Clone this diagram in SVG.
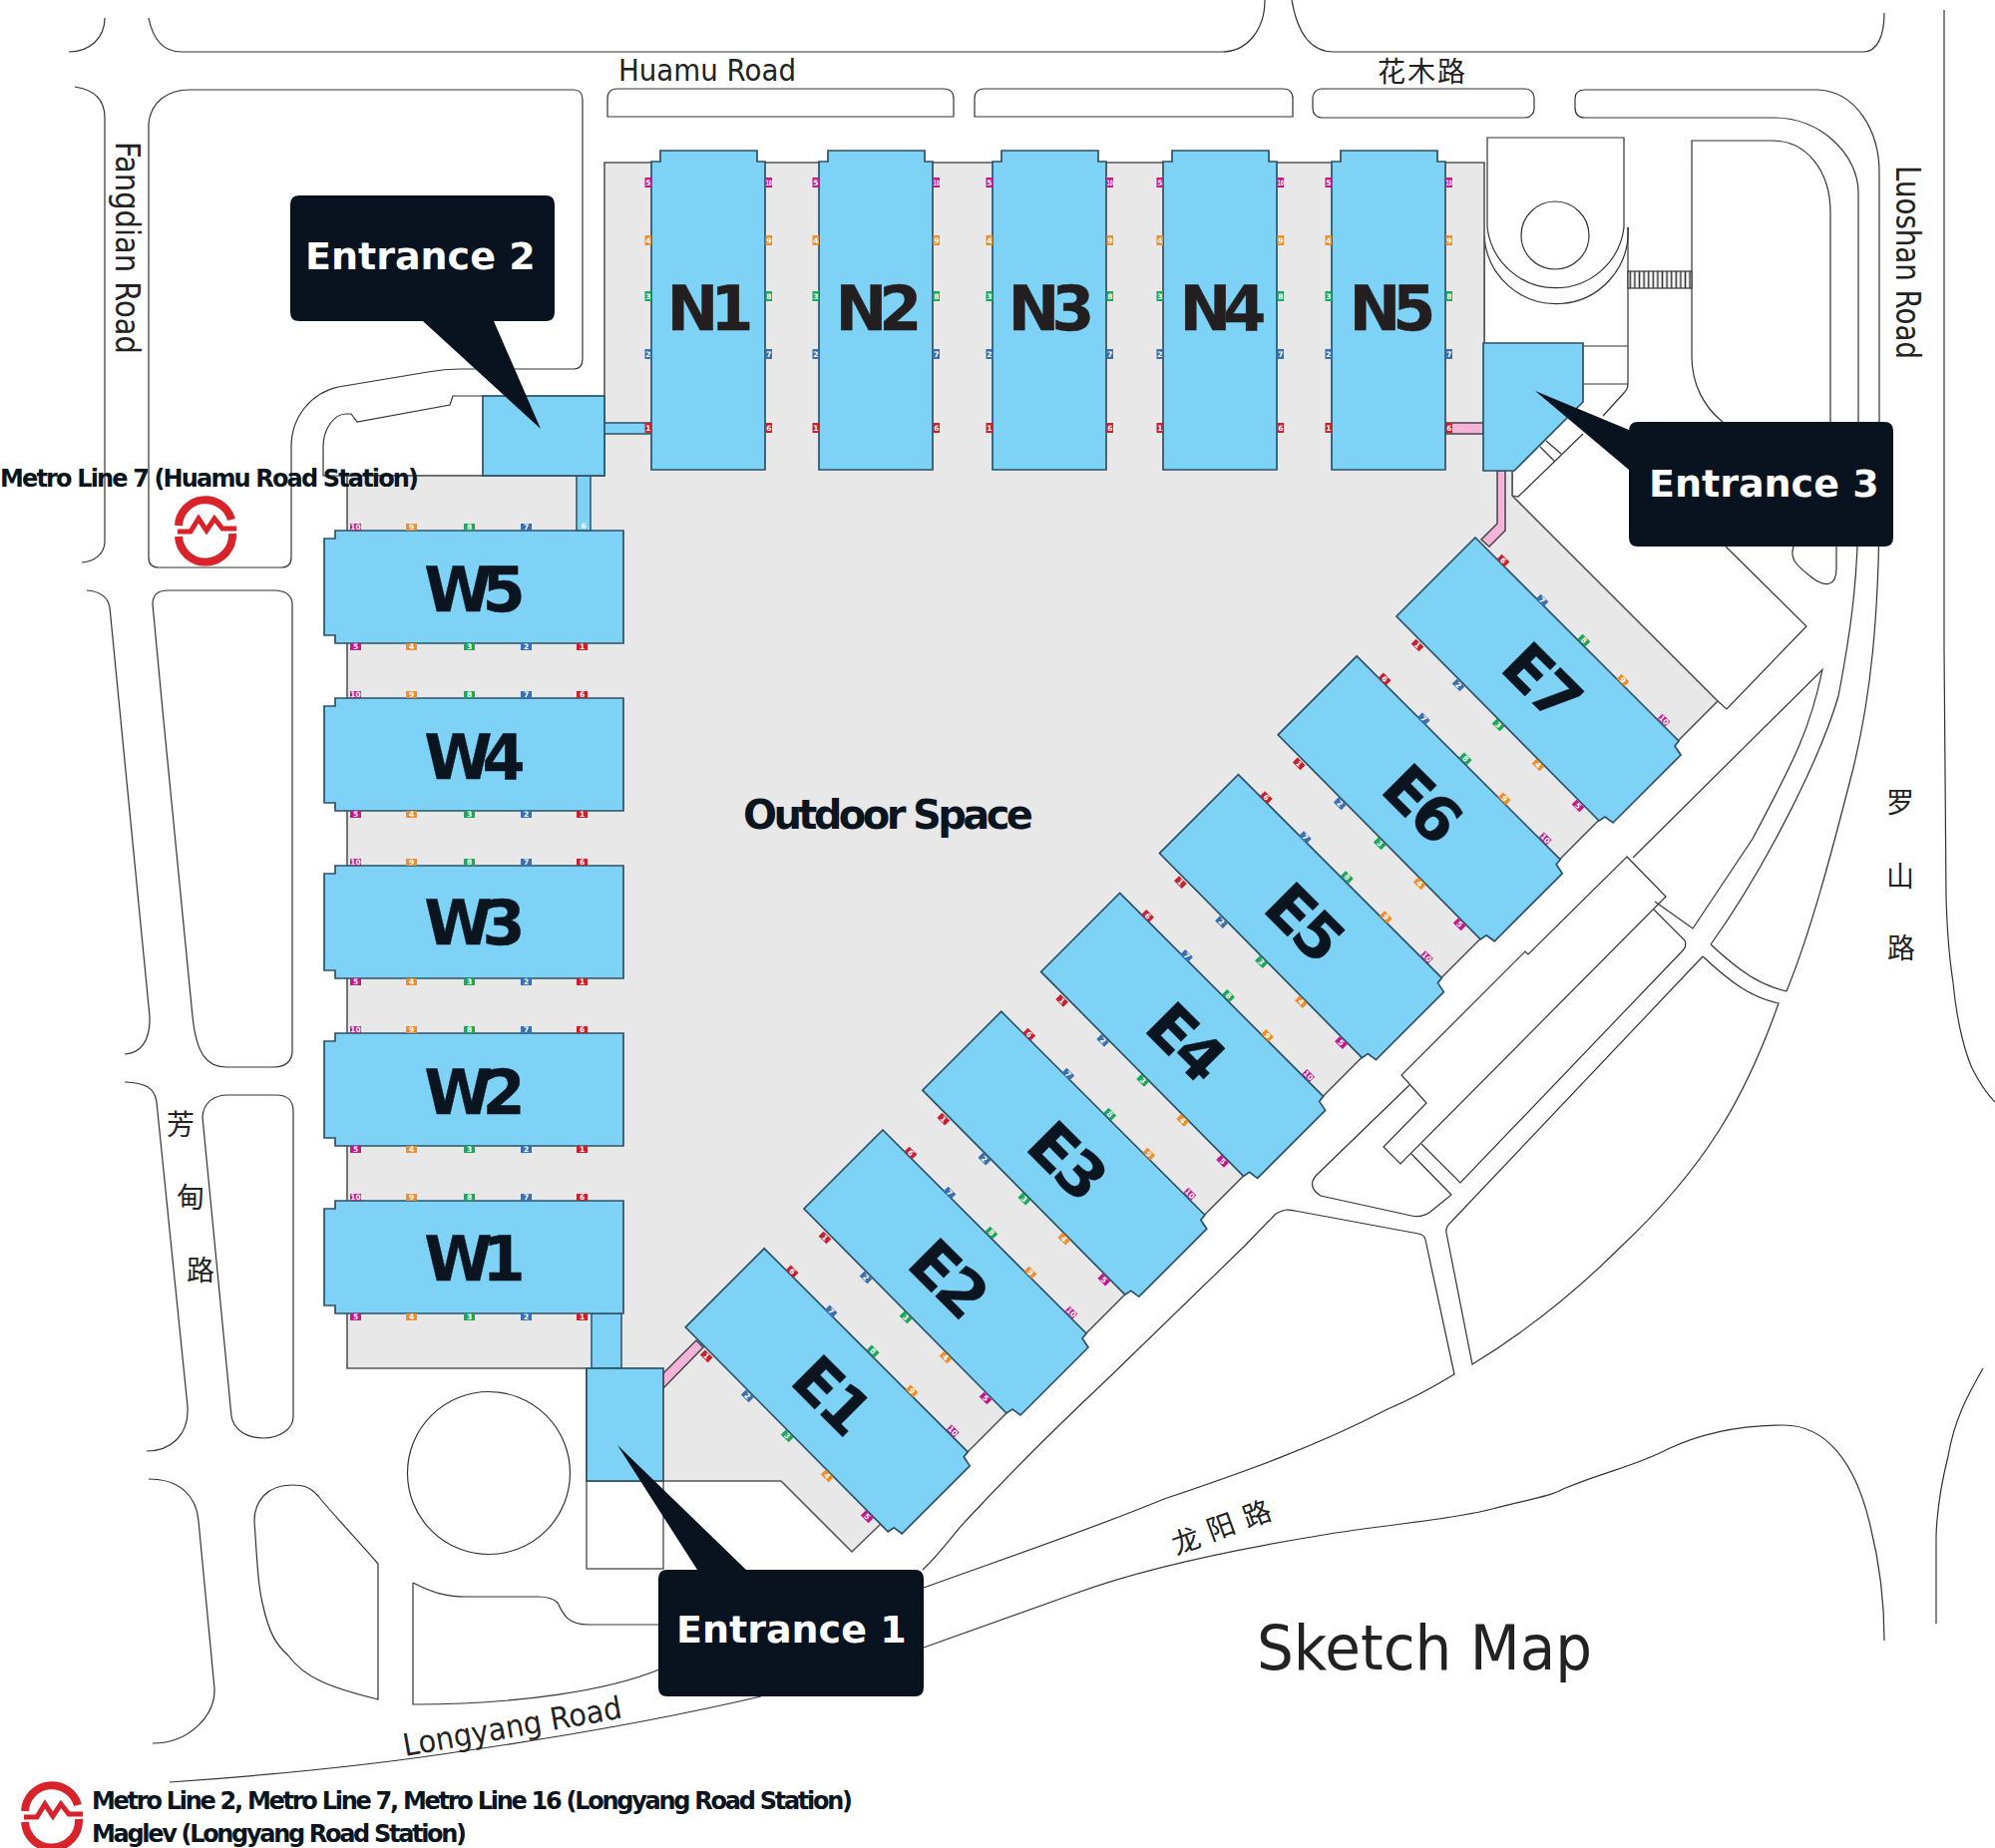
<svg xmlns="http://www.w3.org/2000/svg" xmlns:xlink="http://www.w3.org/1999/xlink" width="2000" height="1853" viewBox="0 0 2000 1853">
<style>
.road{fill:none;stroke:#333;stroke-width:1.2}
.strip{fill:#7dd2f6;stroke:#35596c;stroke-width:1.6}
.pink{fill:#f6b3d9;stroke:#444;stroke-width:1.5}
.blk{fill:#7dd2f6;stroke:#2b5268;stroke-width:1.7}
.call{fill:#08131f}
.calltx{font:bold 38px "DejaVu Sans",sans-serif;fill:#fff}
.big{font:bold 62px "DejaVu Sans",sans-serif;fill:#0a1520;stroke:#0a1520;stroke-width:.4;text-anchor:middle}
.bn{letter-spacing:-8px;fill:#231f20;stroke:#231f20}
.bw{letter-spacing:-10px}
.be{letter-spacing:-4px}
.rd{font-family:"DejaVu Sans",sans-serif;fill:#222}
.cjk{font-family:"Noto Sans CJK SC","DejaVu Sans",sans-serif;font-size:28px;fill:#222;text-anchor:middle}
.mt{font:bold 24px "DejaVu Sans",sans-serif;fill:#0a1520}
.g1{fill:#c8202f}.g2{fill:#3a6fb0}.g3{fill:#1aa85a}.g4{fill:#ef8e2c}.g5{fill:#c6168d}
.gt{font:bold 7.5px "DejaVu Sans",sans-serif;fill:#fff;text-anchor:middle}
</style>
<defs>
<pattern id="stair" width="4.6" height="17" patternUnits="userSpaceOnUse" x="1632" y="272"><rect width="4.6" height="17" fill="#fff"/><path d="M2.3 0V17" stroke="#333" stroke-width="1.6"/></pattern>
<g id="logo">
<path d="M-27-3A27 27 0 0 1 26-9" fill="none" stroke="#d9232b" stroke-width="8"/>
<path d="M-27 8A27 27 0 0 0 27 5" fill="none" stroke="#d9232b" stroke-width="8"/>
<path d="M-28 3H-15L-7-10L1 2L9-10L17 0H31" fill="none" stroke="#d9232b" stroke-width="5"/>
</g>
<g id="nb">
<polygon class="blk" points="0,471 0,162 9,162 9,151 106,151 106,162 114,162 114,471"/>
<rect class="g5" x="-6.5" y="178" width="6.5" height="10"/><text class="gt" x="-3.2" y="186">5</text>
<rect class="g4" x="-6.5" y="236" width="6.5" height="10"/><text class="gt" x="-3.2" y="244">4</text>
<rect class="g3" x="-6.5" y="292" width="6.5" height="10"/><text class="gt" x="-3.2" y="300">3</text>
<rect class="g2" x="-6.5" y="350" width="6.5" height="10"/><text class="gt" x="-3.2" y="358">2</text>
<rect class="g1" x="-6.5" y="424" width="6.5" height="10"/><text class="gt" x="-3.2" y="432">1</text>
<rect class="g5" x="114.5" y="178" width="6.5" height="10"/><text class="gt" x="117.8" y="186" textLength="6" lengthAdjust="spacingAndGlyphs">10</text>
<rect class="g4" x="114.5" y="236" width="6.5" height="10"/><text class="gt" x="117.8" y="244">9</text>
<rect class="g3" x="114.5" y="292" width="6.5" height="10"/><text class="gt" x="117.8" y="300">8</text>
<rect class="g2" x="114.5" y="350" width="6.5" height="10"/><text class="gt" x="117.8" y="358">7</text>
<rect class="g1" x="114.5" y="424" width="6.5" height="10"/><text class="gt" x="117.8" y="432">6</text>
</g>
<g id="wb">
<polygon class="blk" points="11,0 300,0 300,113 11,113 11,105 0,105 0,8 11,8"/>
<rect class="g5" x="26" y="-7" width="11" height="7"/><text class="gt" x="31.5" y="-1">10</text>
<rect class="g4" x="82" y="-7" width="11" height="7"/><text class="gt" x="87.5" y="-1">9</text>
<rect class="g3" x="140" y="-7" width="11" height="7"/><text class="gt" x="145.5" y="-1">8</text>
<rect class="g2" x="197" y="-7" width="11" height="7"/><text class="gt" x="202.5" y="-1">7</text>
<rect class="g1" x="253" y="-7" width="11" height="7"/><text class="gt" x="258.5" y="-1">6</text>
<rect class="g5" x="26" y="113" width="11" height="7"/><text class="gt" x="31.5" y="119">5</text>
<rect class="g4" x="82" y="113" width="11" height="7"/><text class="gt" x="87.5" y="119">4</text>
<rect class="g3" x="140" y="113" width="11" height="7"/><text class="gt" x="145.5" y="119">3</text>
<rect class="g2" x="197" y="113" width="11" height="7"/><text class="gt" x="202.5" y="119">2</text>
<rect class="g1" x="253" y="113" width="11" height="7"/><text class="gt" x="258.5" y="119">1</text>
</g>
<g id="eb">
<polygon class="blk" points="1479,539 1683,743 1679,748 1685,757 1617,825 1609,819 1603,823 1400,618"/>
<g transform="translate(1507,562) rotate(45)"><rect class="g1" x="-5.5" y="-3.5" width="11" height="7"/><text class="gt" y="2.6">6</text></g>
<g transform="translate(1546,602) rotate(45)"><rect class="g2" x="-5.5" y="-3.5" width="11" height="7"/><text class="gt" y="2.6">7</text></g>
<g transform="translate(1588,642) rotate(45)"><rect class="g3" x="-5.5" y="-3.5" width="11" height="7"/><text class="gt" y="2.6">8</text></g>
<g transform="translate(1627,682) rotate(45)"><rect class="g4" x="-5.5" y="-3.5" width="11" height="7"/><text class="gt" y="2.6">9</text></g>
<g transform="translate(1668,722) rotate(45)"><rect class="g5" x="-5.5" y="-3.5" width="11" height="7"/><text class="gt" y="2.6">10</text></g>
<g transform="translate(1421,647) rotate(45)"><rect class="g1" x="-5.5" y="-3.5" width="11" height="7"/><text class="gt" y="2.6">1</text></g>
<g transform="translate(1462,687) rotate(45)"><rect class="g2" x="-5.5" y="-3.5" width="11" height="7"/><text class="gt" y="2.6">2</text></g>
<g transform="translate(1502,727) rotate(45)"><rect class="g3" x="-5.5" y="-3.5" width="11" height="7"/><text class="gt" y="2.6">3</text></g>
<g transform="translate(1542,767) rotate(45)"><rect class="g4" x="-5.5" y="-3.5" width="11" height="7"/><text class="gt" y="2.6">4</text></g>
<g transform="translate(1582,808) rotate(45)"><rect class="g5" x="-5.5" y="-3.5" width="11" height="7"/><text class="gt" y="2.6">5</text></g>
</g>
</defs>
<rect width="2000" height="1853" fill="#fff"/>

<g id="roads">
<path class="road" d="M105 18C105 38 90 52 69 52"/>
<path class="road" d="M149 18C153 38 162 52 182 52H1225C1250 52 1268 30 1268 0"/>
<path class="road" d="M1295 0C1300 30 1312 52 1337 52H1868C1882 52 1889 36 1889 13"/>
<path class="road" d="M1949 10V650L1951 899C1952 935 1954 960 1958 985C1962 1030 1972 1060 1977 1071C1985 1087 1992 1097 2000 1105"/>
<path class="road" d="M75 87C95 90 105 100 105 118V543C105 555 95 563 82 564"/>
<path class="road" d="M149 124C151 102 168 90 190 90H575Q584 90 584 100V360Q584 370 575 370H461C450 370 440 371 429 373L339 388C312 394 292 418 292 448V559Q292 569 282 569H159Q149 569 149 559Z"/>
<path class="road" d="M484 477H324V448C324 430 335 415 347 415H352L358 423L451 406L454 397H484"/>
<path class="road" d="M87 592C100 593 108 598 110 609L150 1019C151 1045 140 1056 125 1057"/>
<path class="road" d="M153 606C153 596 158 592 168 592H275C286 592 293 597 293 606V1054C293 1064 286 1070 275 1070H227C208 1070 197 1058 193 1019L163 712Z"/>
<path class="road" d="M125 1085C145 1086 155 1090 157 1105L188 1410C190 1440 170 1455 147 1455"/>
<path class="road" d="M203 1120C204 1105 215 1098 228 1098H277C288 1098 294 1104 294 1114V1421C294 1433 280 1442 264 1442C245 1442 234 1432 232 1420Z"/>
<path class="road" d="M149 1483C180 1483 197 1500 199 1525L215 1693C216 1720 190 1748 153 1748"/>
<path class="road" d="M379 1568C355 1540 335 1520 319 1500C310 1490 303 1489 293 1489C268 1489 255 1505 255 1525C258 1570 259 1590 263 1607C270 1640 278 1650 289 1660C305 1682 330 1692 379 1704Z"/>
<circle class="road" cx="490" cy="1477" r="81.5"/>
<path class="road" d="M414 1587C435 1598 450 1601 467 1601H539C550 1601 556 1604 559 1607C565 1620 570 1629 590 1629H661"/>
<path class="road" d="M661 1674C610 1695 520 1709 416 1709H414V1587"/>
<path class="road" d="M170 1787C300 1778 406 1765 470 1755C559 1742 660 1725 763 1701"/>
<path class="road" d="M609 117V99Q609 89 619 89H946Q956 89 956 99V117Z"/>
<path class="road" d="M977 117V99Q977 89 987 89H1286Q1296 89 1296 99V117Z"/>
<rect class="road" x="1316" y="89" width="222" height="29" rx="9"/>
<path class="road" d="M1835 423V213C1835 170 1810 141 1777 141H1696V357C1696 385 1708 408 1727 423"/>
<path class="road" d="M1579 99Q1579 90 1589 90H1823C1860 92 1884 130 1884 173V500C1884 620 1875 700 1858 770C1835 860 1815 935 1791 994"/>
<path class="road" d="M1579 99V108Q1579 118 1589 118H1779C1825 118 1863 155 1863 193V500C1863 570 1858 620 1843 698C1825 760 1770 870 1715 947"/>
<path class="road" d="M1715 947C1745 975 1765 988 1791 994"/>
<path class="road" d="M1707 959C1735 985 1755 1000 1783 1006C1750 1100 1710 1170 1625 1250C1580 1295 1530 1335 1476 1368L1450 1236Q1449 1230 1455 1225L1707 959"/>
<path class="road" d="M1637 860L1827 671.5C1815 730 1800 760 1757 841L1697 931L1659 904"/>
<path class="road" d="M1631 859L1670 899L1404 1167L1387 1150L1430 1106L1405 1078L1529 954L1532 957Z"/>
<path class="road" d="M1658 912L1689 943Q1691 948 1688 952L1464 1186L1425 1147"/>
<path class="road" d="M1413 1088L1319 1179Q1310 1190 1324 1199L1415 1219C1425 1221 1430 1218 1434 1215L1455 1198L1415 1157"/>
<path class="road" d="M925 1574C945 1555 958 1535 970 1523C1010 1480 1060 1430 1110 1383L1247 1250L1279 1217C1287 1212 1292 1213 1298 1214L1422 1237Q1428 1238 1429 1243L1458 1378C1430 1395 1410 1405 1391 1413C1320 1450 1250 1475 1167 1503C1090 1535 1000 1565 926 1592"/>
<path class="road" d="M926 1652L1080 1597C1140 1575 1230 1555 1321 1540C1390 1528 1450 1525 1496 1513C1535 1503 1555 1500 1567 1493C1610 1475 1640 1470 1672 1453C1710 1435 1750 1429 1788 1429C1830 1429 1860 1465 1875 1530C1885 1570 1889 1610 1889 1645"/>
<path class="road" d="M1941 1628V1540C1942 1510 1948 1480 1953 1460C1960 1420 1975 1395 1988 1372"/>
<path class="road" d="M1730 548L1811 628L1731 711L1722 703"/>
<path class="road" d="M1798 548C1794 560 1800 566 1815 578C1830 590 1841 588 1841 570V548"/>
<path class="road" d="M1491 138H1628V228A69 69 0 0 1 1491 228Z"/>
<path class="road" d="M1488 237A72 72 0 0 0 1632 228"/>
<circle class="road" cx="1559" cy="236" r="34"/>
<path class="road" d="M1488 237V344M1632 228V385Q1632 390 1628 394L1607 417M1587 347H1632M1587 385H1632"/>
<path class="road" d="M1587 435L1522 498L1516 497V472M1544 448L1558 462M1550 442L1565 455"/>
<rect x="1632" y="272" width="64" height="17" fill="url(#stair)" stroke="#333" stroke-width="1.2"/>
</g>

<g id="plaza">
<polygon fill="#e8e8e8" stroke="#555" stroke-width="1.6" points="606,163 1488,163 1488,344 1516,472 1516,497 1722,703 970,1456 904,1530 883,1528 854,1556 783,1485 588,1485 588,1372 348,1372 348,477 606,477"/>
</g>

<g id="connectors">
<rect class="strip" x="605" y="424" width="48" height="11"/>
<rect class="strip" x="593" y="1317" width="30" height="55"/>
<polygon class="pink" points="665,1377 698,1344 705,1351 665,1392"/>
<rect class="pink" x="1449" y="424" width="38" height="11"/>
<polygon class="pink" points="1501,472 1509,472 1509,532 1493,548 1485,541 1501,525"/>
</g>

<g id="n1"><use href="#nb" x="653"/><text class="big bn" x="708" y="331">N1</text></g>
<g id="n2"><use href="#nb" x="821"/><text class="big bn" x="877" y="331">N2</text></g>
<g id="n3"><use href="#nb" x="995"/><text class="big bn" x="1050" y="331">N3</text></g>
<g id="n4"><use href="#nb" x="1166"/><text class="big bn" x="1222" y="331">N4</text></g>
<g id="n5"><use href="#nb" x="1335"/><text class="big bn" x="1392" y="331">N5</text></g>

<g id="w5"><use href="#wb" x="325" y="532"/><text class="big bw" x="471" y="613">W5</text></g>
<g id="w4"><use href="#wb" x="325" y="700"/><text class="big bw" x="471" y="781">W4</text></g>
<g id="w3"><use href="#wb" x="325" y="868"/><text class="big bw" x="471" y="947">W3</text></g>
<g id="w2"><use href="#wb" x="325" y="1036"/><text class="big bw" x="471" y="1117">W2</text></g>
<g id="w1"><use href="#wb" x="325" y="1204"/><text class="big bw" x="471" y="1284">W1</text></g>

<g id="e1"><use href="#eb" transform="translate(-712.8,712.8)"/><text class="big be" transform="translate(833,1398) rotate(45)" y="22">E1</text></g>
<g id="e2"><use href="#eb" transform="translate(-594,594)"/><text class="big be" transform="translate(950,1281) rotate(45)" y="22">E2</text></g>
<g id="e3"><use href="#eb" transform="translate(-475.2,475.2)"/><text class="big be" transform="translate(1069,1163) rotate(45)" y="22">E3</text></g>
<g id="e4"><use href="#eb" transform="translate(-356.4,356.4)"/><text class="big be" transform="translate(1188,1044) rotate(45)" y="22">E4</text></g>
<g id="e5"><use href="#eb" transform="translate(-237.6,237.6)"/><text class="big be" transform="translate(1307,924) rotate(45)" y="22">E5</text></g>
<g id="e6"><use href="#eb" transform="translate(-118.8,118.8)"/><text class="big be" transform="translate(1425,805) rotate(45)" y="22">E6</text></g>
<g id="e7"><use href="#eb"/><text class="big be" transform="translate(1545,683) rotate(45)" y="22">E7</text></g>

<g id="gate-strip">
<rect class="strip" x="578" y="477" width="14" height="55"/>
<text class="gt" x="585" y="530">6</text>
</g>

<g id="entrance1">
<rect x="588" y="1485" width="77" height="88" fill="#fff" stroke="#555" stroke-width="1.4"/>
<rect class="blk" x="588" y="1372" width="77" height="113"/>
<path class="call" d="M669 1574H699L619 1449L748 1574H917Q926 1574 926 1583V1692Q926 1701 917 1701H669Q660 1701 660 1692V1583Q660 1574 669 1574Z"/>
<text class="calltx" x="678" y="1647">Entrance 1</text>
</g>
<g id="entrance2">
<rect class="blk" x="484" y="397" width="122" height="80"/>
<path class="call" d="M300 196H547Q556 196 556 205V313Q556 322 547 322H495L542 430L424 322H300Q291 322 291 313V205Q291 196 300 196Z"/>
<text class="calltx" x="306" y="270">Entrance 2</text>
</g>
<g id="entrance3">
<polygon class="blk" points="1487,344 1587,344 1587,403 1518,472 1487,472"/>
<path class="call" d="M1642 423H1889Q1898 423 1898 432V539Q1898 548 1889 548H1642Q1633 548 1633 539V471L1539 392L1633 431V432Q1633 423 1642 423Z"/>
<text class="calltx" x="1653" y="498">Entrance 3</text>
</g>

<g id="labels">
<text class="rd" font-size="30" x="620" y="81" textLength="178" lengthAdjust="spacingAndGlyphs">Huamu Road</text>
<text class="rd" font-size="33" transform="translate(116,142) rotate(90)" textLength="213" lengthAdjust="spacingAndGlyphs">Fangdian Road</text>
<text class="rd" font-size="33" transform="translate(1901,166) rotate(90)" textLength="194" lengthAdjust="spacingAndGlyphs">Luoshan Road</text>
<text class="rd" font-size="31" transform="translate(406,1761) rotate(-10)" textLength="222" lengthAdjust="spacingAndGlyphs">Longyang Road</text>
<text class="rd" font-size="63" x="1260" y="1674" textLength="336" lengthAdjust="spacingAndGlyphs">Sketch Map</text>
<text class="cjk" x="1425" y="82" textLength="88">花木路</text>
<text class="cjk" x="181" y="1138">芳</text>
<text class="cjk" x="191" y="1211">甸</text>
<text class="cjk" x="201" y="1284">路</text>
<text class="cjk" x="1905" y="815">罗</text>
<text class="cjk" x="1905" y="889">山</text>
<text class="cjk" x="1906" y="961">路</text>
<text class="cjk" transform="translate(1189,1545) rotate(-20)" y="10">龙</text>
<text class="cjk" transform="translate(1224,1531) rotate(-20)" y="10">阳</text>
<text class="cjk" transform="translate(1260,1518) rotate(-20)" y="10">路</text>
<text font-family="DejaVu Sans,sans-serif" font-weight="bold" font-size="40" fill="#0a1520" x="745" y="831" textLength="291" lengthAdjust="spacing">Outdoor Space</text>
<text class="mt" x="0" y="488" textLength="420" lengthAdjust="spacing">Metro Line 7 (Huamu Road Station)</text>
<text class="mt" x="92" y="1814" textLength="763" lengthAdjust="spacing">Metro Line 2, Metro Line 7, Metro Line 16 (Longyang Road Station)</text>
<text class="mt" x="92" y="1847" textLength="376" lengthAdjust="spacing">Maglev (Longyang Road Station)</text>
</g>
<g id="metro-huamu"><use href="#logo" x="206" y="530"/></g>
<g id="metro-longyang"><use href="#logo" x="52" y="1819"/></g>
</svg>
